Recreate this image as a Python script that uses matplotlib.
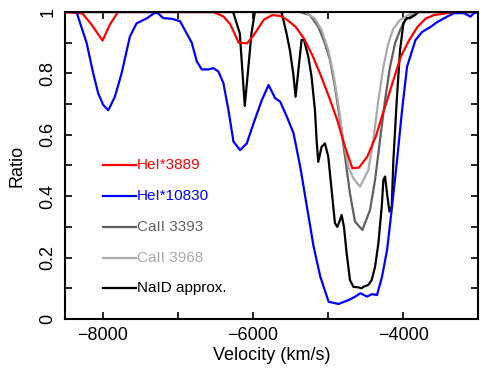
import matplotlib.pyplot as plt

# HeI*3889
vel_hei3889 = [-8500, -8267, -8150, -8000, -7900, -7795, -7000, -6522, -6389, -6300, -6187,
               -6076, -5987, -5853, -5742, -5631, -5542, -5431, -5320, -5209, -5098, -4987,
               -4876, -4787, -4676, -4587, -4476, -4364, -4253, -4142, -4031, -3920, -3809,
               -3698, -3587, -3364, -3000]
ratio_hei3889 = [1.0, 0.995, 0.96, 0.907, 0.96, 1.0, 1.0, 1.0, 0.985, 0.96, 0.90,
                 0.898, 0.925, 0.975, 0.99, 0.987, 0.974, 0.952, 0.914, 0.86, 0.795, 0.724,
                 0.648, 0.572, 0.491, 0.493, 0.529, 0.594, 0.681, 0.768, 0.854, 0.908, 0.951,
                 0.979, 0.99, 0.998, 1.0]

# HeI*10830
vel_hei10830 = [-8400, -8347, -8213, -8124, -8058, -7991, -7924, -7836, -7747, -7636, -7547,
                -7413, -7302, -7258, -7191, -7080, -6969, -6880, -6813, -6747, -6680, -6591,
                -6524, -6458, -6391, -6324, -6258, -6169, -6080, -5991, -5880, -5791, -5702,
                -5636, -5547, -5458, -5369, -5280, -5191, -5102, -4991, -4858, -4724, -4636,
                -4569, -4480, -4413, -4347, -4280, -4213, -4147, -4080, -4013, -3947, -3836,
                -3747, -3636, -3547, -3413, -3324, -3191, -3102, -3058, -3000]
ratio_hei10830 = [1.0, 1.0, 0.90, 0.80, 0.735, 0.697, 0.68, 0.724, 0.80, 0.92, 0.963,
                  0.979, 0.998, 0.995, 0.98, 0.978, 0.97, 0.93, 0.90, 0.84, 0.813, 0.813,
                  0.817, 0.806, 0.768, 0.68, 0.578, 0.55, 0.572, 0.637, 0.713, 0.762, 0.719,
                  0.708, 0.659, 0.605, 0.496, 0.366, 0.236, 0.138, 0.056, 0.049, 0.062, 0.073,
                  0.084, 0.073, 0.081, 0.078, 0.138, 0.225, 0.366, 0.518, 0.681, 0.822, 0.908,
                  0.935, 0.951, 0.967, 0.985, 0.996, 0.996, 0.985, 0.996, 1.0]

# CaII 3393
vel_caii3393 = [-8500, -5373, -5240, -5129, -5040, -4973, -4907, -4840, -4773, -4707, -4640,
                -4542, -4440, -4373, -4307, -4240, -4173, -4107, -4040, -3973, -3884, -3796, -3000]
ratio_caii3393 = [1.0, 1.0, 0.99, 0.952, 0.898, 0.844, 0.757, 0.648, 0.529, 0.409, 0.317,
                  0.29, 0.355, 0.453, 0.583, 0.713, 0.822, 0.898, 0.941, 0.974, 0.987, 1.0, 1.0]

# CaII 3968
vel_caii3968 = [-8500, -5300, -5173, -5084, -4996, -4929, -4862, -4796, -4729, -4662, -4573,
                -4462, -4396, -4329, -4262, -4196, -4129, -4040, -3929, -3840, -3000]
ratio_caii3968 = [1.0, 1.0, 0.978, 0.941, 0.876, 0.80, 0.70, 0.583, 0.496, 0.458, 0.431,
                  0.485, 0.583, 0.713, 0.822, 0.898, 0.946, 0.974, 0.99, 1.0, 1.0]

# NaID approx.
vel_naid = [-8500, -6262, -6173, -6107, -6018, -5973, -5618, -5551, -5507, -5462, -5431,
            -5351, -5320, -5262, -5218, -5173, -5151, -5129, -5084, -5040, -4996, -4951,
            -4907, -4876, -4840, -4818, -4787, -4751, -4707, -4662, -4596, -4551, -4529,
            -4462, -4418, -4373, -4329, -4284, -4262, -4240, -4209, -4182, -4151, -4129,
            -4084, -4040, -3996, -3951, -3907, -3840, -3796, -3000]
ratio_naid = [1.0, 1.0, 0.93, 0.694, 0.93, 1.0, 1.0, 0.93, 0.876, 0.80, 0.724,
              0.909, 0.91, 0.855, 0.789, 0.68, 0.583, 0.512, 0.561, 0.572, 0.529, 0.42,
              0.312, 0.30, 0.322, 0.339, 0.30, 0.214, 0.127, 0.105, 0.103, 0.10, 0.105,
              0.111, 0.127, 0.17, 0.246, 0.366, 0.453, 0.464, 0.40, 0.35, 0.366, 0.518,
              0.713, 0.876, 0.963, 0.98, 0.98, 0.99, 1.0, 1.0]

labels = ["HeI*3889", "HeI*10830", "CaII 3393", "CaII 3968", "NaID approx."]
colors = ["#ff0000", "#0000ff", "#606060", "#aaaaaa", "#000000"]
legend_y = [0.5, 0.4, 0.3, 0.2, 0.1]

plt.rcParams['font.family'] = ['Liberation Sans', 'DejaVu Sans']

fig = plt.figure(figsize=(4.85, 3.69), dpi=100)
ax = fig.add_axes([0.134, 0.1355, 0.852, 0.832])

series = [(vel_caii3393, ratio_caii3393, colors[2]),
          (vel_caii3968, ratio_caii3968, colors[3]),
          (vel_naid, ratio_naid, colors[4]),
          (vel_hei3889, ratio_hei3889, colors[0]),
          (vel_hei10830, ratio_hei10830, colors[1])]
for v, r, c in series:
    ax.plot(v, r, color=c, lw=1.6)

# hand-drawn legend
for lab, c, y in zip(labels, colors, legend_y):
    ax.plot([-8000, -7550], [y, y], color=c, lw=1.6)
    ax.text(-7545, y, lab, color=c, fontsize=11, va='center', ha='left')

ax.set_xlim(-8500, -3000)
ax.set_ylim(0, 1)
ax.set_xticks([-8000, -6000, -4000])
ax.set_xticks([-7000, -5000, -3000], minor=True)
ax.set_yticks([0, 0.2, 0.4, 0.6, 0.8, 1])
ax.set_yticklabels(["0", "0.2", "0.4", "0.6", "0.8", "1"], rotation=90, va='center')
ax.set_yticks([0.1, 0.3, 0.5, 0.7, 0.9], minor=True)
ax.tick_params(which='both', direction='in', top=True, right=True, length=5, width=1.2,
               labelsize=13, pad=6)
for s in ax.spines.values():
    s.set_linewidth(1.5)
ax.set_xlabel("Velocity (km/s)", fontsize=13, labelpad=2)
ax.set_ylabel("Ratio", fontsize=13, labelpad=10)

fig.savefig("out.png", dpi=100)
